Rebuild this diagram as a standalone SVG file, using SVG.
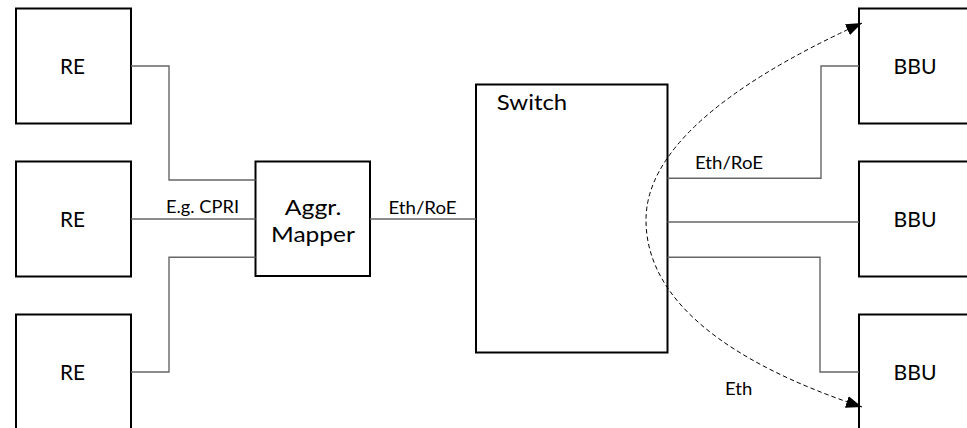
<svg xmlns="http://www.w3.org/2000/svg" width="967" height="428" viewBox="0 0 967 428">
  <style>
    .box { fill: #ffffff; stroke: #000000; stroke-width: 2; }
    .big { font-family: Lato, "Liberation Sans", sans-serif; font-size: 22px; fill: #000000; text-anchor: middle; }
    .small { font-family: Lato, "Liberation Sans", sans-serif; font-size: 16.5px; fill: #000000; text-anchor: middle; }
    .link { fill: none; stroke: #666666; stroke-width: 1.4; }
    .flow { fill: none; stroke: #000000; stroke-width: 1; stroke-dasharray: 4.5 3; }
  </style>
  <defs>
    <marker id="arrow" viewBox="0 0 16 12" refX="16" refY="6" markerWidth="16" markerHeight="12" markerUnits="userSpaceOnUse" orient="auto-start-reverse">
      <path d="M0,0 L16,6 L0,12 z" fill="#000000"/>
    </marker>
  </defs>

  <rect width="967" height="428" fill="#ffffff"/>

  <!-- radio equipment -->
  <g id="re1">
    <rect class="box" x="16" y="8.5" width="115" height="115"/>
    <text class="big" x="72.5" y="74" textLength="25" lengthAdjust="spacingAndGlyphs">RE</text>
  </g>
  <g id="re2">
    <rect class="box" x="16" y="161.5" width="115" height="115"/>
    <text class="big" x="72.5" y="227" textLength="25" lengthAdjust="spacingAndGlyphs">RE</text>
  </g>
  <g id="re3">
    <rect class="box" x="16" y="314.5" width="115" height="115"/>
    <text class="big" x="72.5" y="380" textLength="25" lengthAdjust="spacingAndGlyphs">RE</text>
  </g>

  <!-- aggregation / mapping stage -->
  <g id="aggr">
    <rect class="box" x="255.5" y="161.5" width="114.5" height="114.5"/>
    <text class="big" x="313" y="214.5" textLength="56.5" lengthAdjust="spacingAndGlyphs">Aggr.</text>
    <text class="big" x="313" y="241.5" textLength="84" lengthAdjust="spacingAndGlyphs">Mapper</text>
  </g>

  <!-- switch -->
  <g id="switch">
    <rect class="box" x="476" y="84.5" width="191.5" height="268"/>
    <text class="big" x="532" y="110" textLength="70.5" lengthAdjust="spacingAndGlyphs">Switch</text>
  </g>

  <!-- baseband units -->
  <g id="bbu1">
    <rect class="box" x="859" y="8.5" width="115" height="115"/>
    <text class="big" x="915" y="74" textLength="43" lengthAdjust="spacingAndGlyphs">BBU</text>
  </g>
  <g id="bbu2">
    <rect class="box" x="859" y="161.5" width="115" height="115"/>
    <text class="big" x="915" y="227" textLength="43" lengthAdjust="spacingAndGlyphs">BBU</text>
  </g>
  <g id="bbu3">
    <rect class="box" x="859" y="314.5" width="115" height="115"/>
    <text class="big" x="915" y="380" textLength="43" lengthAdjust="spacingAndGlyphs">BBU</text>
  </g>

  <!-- links -->
  <g id="connectors">
    <path class="link" d="M131,66 H169 V180 H255.5"/>
    <path class="link" d="M131,219 H255.5"/>
    <path class="link" d="M131,372 H169 V257.3 H255.5"/>
    <path class="link" d="M370,219 H476"/>
    <path class="link" d="M667.5,178.3 H821 V66 H859"/>
    <path class="link" d="M667.5,222 H859"/>
    <path class="link" d="M667.5,257.3 H820 V372 H859"/>
    <path class="flow" d="M862,23 Q646,121.5 646,220 C646,300 727,362 862,407" marker-start="url(#arrow)" marker-end="url(#arrow)"/>

    <text class="small" x="202.5" y="213" textLength="73" lengthAdjust="spacingAndGlyphs">E.g. CPRI</text>
    <text class="small" x="422.5" y="213.5" textLength="68" lengthAdjust="spacingAndGlyphs">Eth/RoE</text>
    <text class="small" x="729" y="168.5" textLength="68" lengthAdjust="spacingAndGlyphs">Eth/RoE</text>
    <text class="small" x="738.7" y="394.5" textLength="27.3" lengthAdjust="spacingAndGlyphs">Eth</text>
  </g>
</svg>
